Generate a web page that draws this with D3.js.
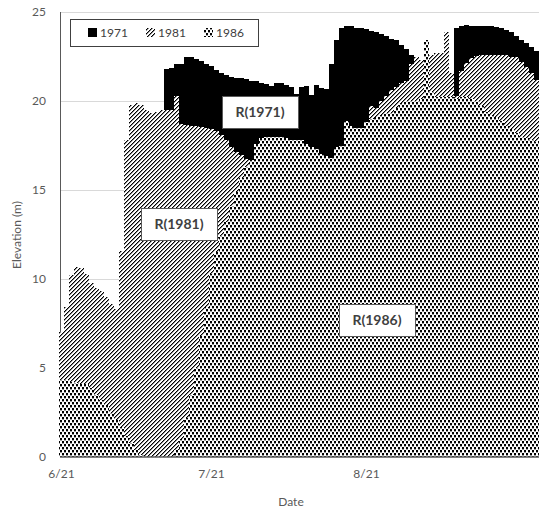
<!DOCTYPE html>
<html><head><meta charset="utf-8">
<script src="https://cdn.jsdelivr.net/npm/d3@7/dist/d3.min.js"></script>
<style>
html,body{margin:0;padding:0;background:#fff;}
svg{display:block;font-family:Lato,"Liberation Sans",sans-serif;}
</style></head>
<body><svg id="c" width="539" height="511"></svg>
<script>
// ---- data ----
const startDay = "2000-06-21";   // first category (6/21)
const nDays = 96;
const tickLabels = ["6/21", "7/21", "8/21"];
const yTicks = [0, 5, 10, 15, 20, 25];
const seriesNames = ["1971", "1981", "1986"];
const regionLabels = ["R(1971)", "R(1981)", "R(1986)"];

const s1971 = [
  null,null,null,null,null,null,null,null,null,null,null,null,null,null,null,null,null,null,null,null,null,
  21.8,21.85,22.1,22.1,22.45,22.45,22.35,22.25,22.1,21.95,21.75,21.6,21.45,21.35,21.3,21.3,21.25,21.15,21.1,21.0,
  20.95,20.85,21.0,21.0,20.9,20.8,20.4,20.8,20.85,20.35,20.9,20.75,20.7,22.1,23.4,24.1,24.2,24.2,24.1,24.1,
  24.05,23.95,23.9,23.75,23.65,23.5,23.4,23.15,22.9,22.6,
  null,null,null,null,null,null,null,null,
  24.1,24.2,24.25,24.2,24.2,24.2,24.2,24.2,24.15,24.1,24.0,23.85,23.65,23.45,23.25,23.05,22.8
];
const s1981 = [
  7.0,8.4,10.2,10.7,10.6,10.3,9.8,9.5,9.3,9.0,8.6,8.3,11.6,17.8,19.8,19.9,19.8,19.5,19.3,19.4,
  19.5,19.5,19.5,20.3,18.7,18.65,18.6,18.6,18.55,18.5,18.45,18.3,18.1,17.8,17.4,17.15,16.95,16.75,
  null,null,null,null,null,null,null,null,null,null,null,null,null,null,null,null,null,null,null,null,null,null,null,null,
  19.7,19.6,20.0,20.3,20.6,20.8,21.0,21.1,22.1,22.5,22.3,22.5,22.6,22.7,22.7,23.9,21.6,20.3,
  21.7,22.15,22.4,22.55,22.6,22.6,22.6,22.6,22.6,22.6,22.5,22.45,22.2,21.9,21.6,21.2
];
const s1986 = [
  4.3,4.3,4.2,4.15,4.1,4.1,3.9,3.5,3.2,2.9,2.5,2.1,1.7,1.2,0.8,0.4,0.1,
  0,0,0,0,0,0,
  0.4,1.0,2.2,3.5,5.0,6.8,8.4,10.3,11.5,12.4,13.2,14.1,14.9,15.7,16.3,16.7,17.6,17.9,
  18.0,18.0,18.0,18.0,17.9,17.8,17.8,17.8,17.6,17.4,17.3,17.0,16.9,16.8,17.4,17.5,18.9,18.6,
  18.5,18.5,18.8,19.0,19.1,19.2,19.3,19.3,19.6,19.9,20.0,20.0,20.0,20.1,23.4,20.5,20.2,20.2,
  20.2,20.2,20.1,20.2,20.2,20.1,20.0,19.7,19.4,19.2,19.1,18.9,18.6,18.4,18.2,18.0,17.9,17.8,17.7
];

// ---- chart ----
const svg = d3.select("#c");
const fmt = d3.timeFormat("%-m/%-d");
const t0 = new Date(startDay + "T00:00:00");
const days = d3.range(nDays).map(i => fmt(d3.timeDay.offset(t0, i)));

const x = d3.scaleBand().domain(days).range([59, 539]).padding(0);
const y = d3.scaleLinear().domain([0, 25]).range([457, 12]);

const defs = svg.append("defs");
function pix(p, cells, color) {
  cells.forEach(([a, b, w, h]) => p.append("rect").attr("x", a).attr("y", b)
    .attr("width", w || 1).attr("height", h || 1).attr("fill", color));
}
// hatch pattern (upward diagonal)
const ph = defs.append("pattern").attr("id", "hatch").attr("patternUnits", "userSpaceOnUse")
  .attr("width", 4).attr("height", 4);
ph.append("rect").attr("width", 4).attr("height", 4).attr("fill", "#fff");
pix(ph, [[3,0],[2,1],[1,2],[0,3]], "#000");
pix(ph, [[0,0],[3,1],[2,2],[1,3]], "#8c8c8c");
// dots pattern
const pd = defs.append("pattern").attr("id", "dots").attr("patternUnits", "userSpaceOnUse")
  .attr("width", 4).attr("height", 6);
pd.append("rect").attr("width", 4).attr("height", 6).attr("fill", "#fff");
pix(pd, [[0,0,2,2],[2,3,2,2]], "#000");
pix(pd, [[0,2,2,1],[2,5,2,1]], "#a0a0a0");

// gridlines
svg.append("g").selectAll("line").data(yTicks.filter(v => v > 0)).join("line")
  .attr("x1", 60).attr("x2", 539).attr("y1", d => y(d) + 0.5).attr("y2", d => y(d) + 0.5)
  .attr("stroke", "#d9d9d9").attr("stroke-width", 1);
// left axis line
svg.append("line").attr("x1", 60.5).attr("x2", 60.5).attr("y1", y(25)).attr("y2", y(0))
  .attr("stroke", "#595959").attr("stroke-width", 1);

const fills = ["#000", "url(#hatch)", "url(#dots)"];
[s1971, s1981, s1986].forEach((s, k) => {
  svg.append("g").attr("shape-rendering", "crispEdges").selectAll("rect")
    .data(s.map((v, i) => ({v, d: days[i]})).filter(o => o.v != null && o.v > 0))
    .join("rect")
    .attr("x", o => x(o.d)).attr("width", x.bandwidth())
    .attr("y", o => y(o.v)).attr("height", o => y(0) - y(o.v))
    .attr("fill", fills[k]);
});

// bottom axis
const xAxis = d3.axisBottom(x).tickValues(tickLabels).tickSize(0).tickPadding(12);
const gx = svg.append("g").attr("transform", `translate(0,${y(0)})`).call(xAxis);
gx.select(".domain").attr("stroke", "#595959").attr("stroke-width", 1.5).attr("d", "M60,0H539");
gx.selectAll("text").attr("fill", "#595959").attr("font-size", 12).attr("font-family", "Lato");

// left axis labels
const yAxis = d3.axisLeft(y).tickValues(yTicks).tickSize(0).tickPadding(14);
const gy = svg.append("g").attr("transform", "translate(60,0)").call(yAxis);
gy.select(".domain").remove();
gy.selectAll("text").attr("fill", "#595959").attr("font-size", 12).attr("font-family", "Lato");

// axis titles
svg.append("text").attr("x", 291).attr("y", 506).attr("text-anchor", "middle")
  .attr("fill", "#595959").attr("font-size", 12).text("Date");
svg.append("text").attr("transform", "translate(21,235) rotate(-90)").attr("text-anchor", "middle")
  .attr("fill", "#595959").attr("font-size", 12).text("Elevation (m)");

// legend
const lg = svg.append("g");
lg.append("rect").attr("x", 70.5).attr("y", 19.5).attr("width", 188).attr("height", 27)
  .attr("fill", "#fff").attr("stroke", "#404040").attr("stroke-width", 1);
const legX = [88, 146, 204];
seriesNames.forEach((n, k) => {
  lg.append("rect").attr("x", legX[k]).attr("y", 28).attr("width", 9).attr("height", 9)
    .attr("fill", fills[k]).attr("shape-rendering", "crispEdges");
  lg.append("text").attr("x", legX[k] + 12).attr("y", 37).attr("fill", "#404040")
    .attr("font-size", 12).text(n);
});

// region labels
const labPos = [[260, 112], [179, 224], [377, 320]];
regionLabels.forEach((t, k) => {
  const g = svg.append("g");
  g.append("rect").attr("x", Math.round(labPos[k][0] - 38) + 0.5).attr("y", labPos[k][1] - 16 + 0.5)
    .attr("width", 76).attr("height", 32).attr("fill", "#fff").attr("stroke", "#595959").attr("stroke-width", 1);
  g.append("text").attr("x", labPos[k][0]).attr("y", labPos[k][1] + 5)
    .attr("text-anchor", "middle").attr("font-weight", "bold").attr("font-size", 14)
    .attr("fill", "#404040").text(t);
});
</script></body></html>
